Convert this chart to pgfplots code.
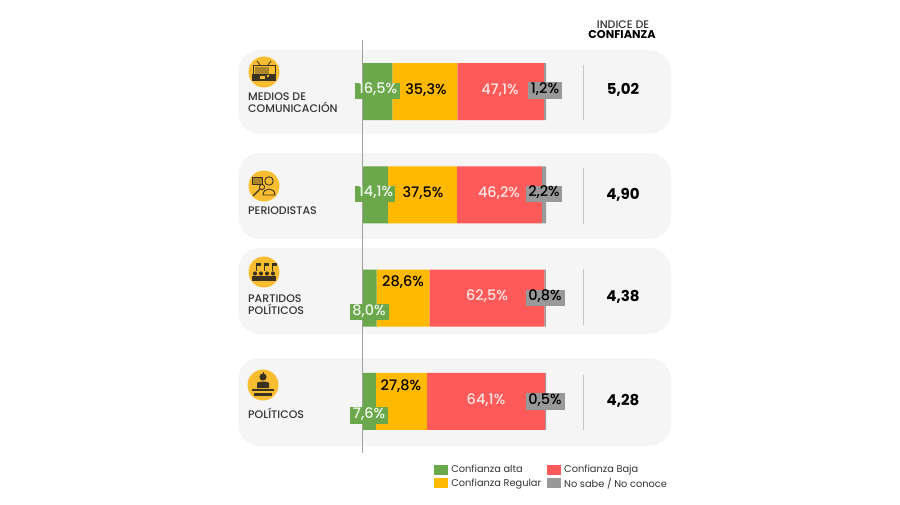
\documentclass[border=0pt]{standalone}
\usepackage{fontspec}
\setmainfont{Poppins}
\newfontfamily\med{Poppins Medium}
\usepackage{pgfplots}
\pgfplotsset{compat=1.18}
\definecolor{cgreen}{HTML}{6BA84B}
\definecolor{cyellow}{HTML}{FFB900}
\definecolor{cred}{HTML}{FF5A5A}
\definecolor{cgray}{HTML}{999999}
\definecolor{cpanel}{HTML}{F5F5F6}
\definecolor{cicon}{HTML}{F8BD30}
\definecolor{cdark}{HTML}{3B3222}
\definecolor{ctext}{HTML}{333333}
\newcommand{\fs}[1]{\fontsize{#1}{#1}\selectfont}
\begin{document}
\begin{tikzpicture}[x=1pt,y=-1pt,
  val/.style={font=\fs{14.5}\med,inner sep=0pt,text height=10pt,text depth=2pt},
  idx/.style={font=\fs{15}\bfseries,text=black},
  cat/.style={font=\fs{11}\med,text=ctext,anchor=west,align=left,inner sep=0pt}]
\fill[white] (0,0) rectangle (900,505);
% panels
\foreach \a/\b in {50/134,153/239,248/334,358/446}
  \fill[cpanel,rounded corners=22pt] (238,\a) rectangle (671,\b);
\begin{axis}[
  at={(362pt,-40pt)},anchor=north west,
  scale only axis,width=184pt,height=413pt,
  xbar stacked,bar width=57pt,
  xmin=0,xmax=100,ymin=-0.5,ymax=3.5,y dir=reverse,
  axis x line=none,
  axis y line=left,
  y axis line style={draw=black!38,line width=1pt,-},
  ytick=\empty,
  axis on top=true,
  legend columns=2,transpose legend,legend cell align=left,
  legend style={at={(0.39,-0.029)},anchor=north west,draw=none,fill=none,
    inner sep=0pt,outer sep=0pt,font=\fs{9.8}\color{ctext},
    /tikz/column 1/.style={column sep=3pt},
    /tikz/column 2/.style={column sep=5pt},
    /tikz/column 3/.style={column sep=3pt},
    row sep=2.5pt,nodes={inner sep=0.5pt}},
  legend image code/.code={\fill[#1] (0pt,-5pt) rectangle (14pt,5pt);},
]
\addplot[fill=cgreen,draw=none] coordinates {(16.5,0) (14.1,1) (8.0,2) (7.6,3)};
\addplot[fill=cyellow,draw=none] coordinates {(35.3,0) (37.5,1) (28.6,2) (27.8,3)};
\addplot[fill=cred,draw=none] coordinates {(47.1,0) (46.2,1) (62.5,2) (64.1,3)};
\addplot[fill=cgray,draw=none] coordinates {(1.2,0) (2.2,1) (0.8,2) (0.5,3)};
\legend{Confianza alta,Confianza Regular,Confianza Baja,No sabe / No conoce}
\end{axis}
% label boxes
\fill[cgreen] (355,83) rectangle (400,99);
\fill[cgreen] (355,186) rectangle (395,202);
\fill[cgreen] (350,304) rectangle (389,320);
\fill[cgreen] (350,407) rectangle (388,424);
\fill[cgray] (528,82) rectangle (562,99);
\fill[cgray] (526,186) rectangle (562,202);
\fill[cgray] (526,290) rectangle (565,306);
\fill[cgray] (526,393) rectangle (565,410);
% values
\node[val,text=white!90!cgreen] at (378,90) {16,5\%};
\node[val] at (426,90.5) {35,3\%};
\node[val,text=white!85!cred] at (500,90.5) {47,1\%};
\node[val] at (545,90) {1,2\%};
\node[val,text=white!90!cgreen] at (376,193) {14,1\%};
\node[val] at (423,193.5) {37,5\%};
\node[val,text=white!85!cred] at (499,193.5) {46,2\%};
\node[val] at (544,193) {2,2\%};
\node[val,text=white!90!cgreen] at (369,311) {8,0\%};
\node[val] at (403,283) {28,6\%};
\node[val,text=white!85!cred] at (487,297) {62,5\%};
\node[val] at (545,297) {0,8\%};
\node[val,text=white!90!cgreen] at (369,414) {7,6\%};
\node[val] at (401,386) {27,8\%};
\node[val,text=white!85!cred] at (486,400) {64,1\%};
\node[val] at (545,400) {0,5\%};
% index
\foreach \x/\a/\b in {1/65/120,2/168/224,3/269/325,4/375/430}
  \draw[black!22,line width=0.8pt] (583.5,\a) -- (583.5,\b);
\node[idx] at (623,90) {5,02};
\node[idx] at (623,195) {4,90};
\node[idx] at (623,297) {4,38};
\node[idx] at (623,401) {4,28};
\node[font=\fs{11}\med,text=ctext,inner sep=0pt] at (623,25) {INDICE DE};
\node[font=\fs{11.3}\bfseries,text=black,inner sep=0pt] at (622,35) {CONFIANZA};
% categories
\node[cat] at (248,97) {MEDIOS DE};
\node[cat] at (248,107.5) {COMUNICACIÓN};
\node[cat] at (248,211) {PERIODISTAS};
\node[cat] at (248,298.5) {PARTIDOS};
\node[cat] at (248,309.5) {POLÍTICOS};
\node[cat] at (248,413.5) {POLÍTICOS};
% icons
\fill[cicon] (264,72) circle (15.5);
\fill[cicon] (264,186) circle (15.5);
\fill[cicon] (264,272) circle (15.5);
\fill[cicon] (263,385) circle (15.5);
% tv
\begin{scope}[shift={(264,72)}]
  \draw[cdark,line width=0.9pt] (-11,6) rectangle (11,-7);
  \fill[cicon!60!cdark] (-9,-5) rectangle (5,2);
  \draw[cdark,line width=0.8pt] (-4,-7)--(-7,-11) (4,-7)--(7,-11);
  \fill[cdark] (-12,2) rectangle (12,9);
  \fill[cicon] (-4,4) rectangle (1,7);
  \fill[cicon] (4,4) circle (1.3);
\end{scope}
% periodistas
\begin{scope}[shift={(264,186)}]
  \draw[cdark,line width=0.9pt] (5,-5) circle (4.2);
  \draw[cdark,line width=0.9pt] (-1,9) .. controls (-1,1) and (11,1) .. (11,9) -- cycle;
  \draw[cdark,line width=0.9pt,fill=cicon!60!cdark] (-12,-9) rectangle (-2,-2);
  \draw[cdark,line width=1.4pt] (-11,10) -- (-4,3);
  \draw[cdark,line width=0.9pt] (-2,1) circle (2.6);
\end{scope}
% partidos
\begin{scope}[shift={(264,272)}]
  \foreach \x in {-8,0,8} {
    \draw[cdark,line width=0.7pt] (\x,-1) -- (\x,-9);
    \fill[cdark] (\x,-9) rectangle (\x+5,-5.5);
  }
  \foreach \x in {-9,-3,3,9} {
    \fill[cdark] (\x,1.5) circle (2.1);
    \fill[cdark] (\x-2.8,9) rectangle (\x+2.8,4);
  }
\end{scope}
% politicos
\begin{scope}[shift={(263,385)}]
  \fill[cdark] (0,-8) circle (3.6);
  \draw[cdark,line width=1pt] (0,-13)--(0,-11);
  \fill[cdark] (-6,3) -- (-6,-2) .. controls (-6,-4) and (6,-4) .. (6,-2) -- (6,3) -- cycle;
  \fill[cdark] (-11,4) rectangle (11,6);
  \fill[cdark] (-9,7.5) rectangle (9,11);
\end{scope}
\end{tikzpicture}
\end{document}
